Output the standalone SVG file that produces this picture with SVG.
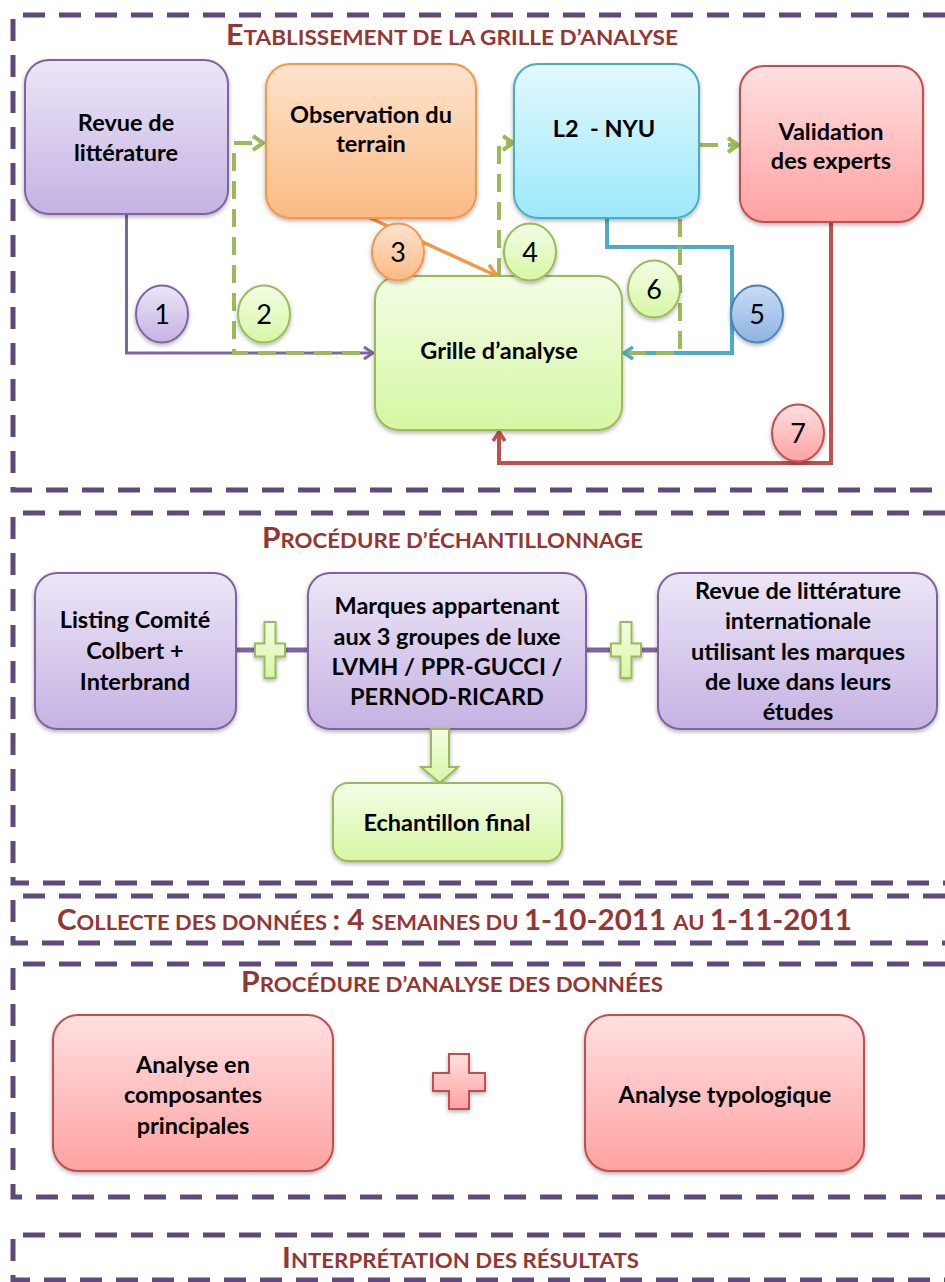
<svg xmlns="http://www.w3.org/2000/svg" width="945" height="1282" viewBox="0 0 945 1282">
<style>
.frame{fill:none;stroke:#5f4a7b;stroke-width:5;stroke-dasharray:22 14}
.title{font-family:Lato,"Liberation Sans",sans-serif;font-weight:bold;fill:#943634}
.big{font-size:29px}
.sm{font-size:21.5px}
.lbl{font-family:Lato,"Liberation Sans",sans-serif;font-weight:bold;font-size:23.5px;fill:#000;text-anchor:middle}
.num{font-family:Lato,"Liberation Sans",sans-serif;font-size:27px;fill:#000;text-anchor:middle}
.box{filter:url(#sh)}
.pu{fill:url(#gPu);stroke:#8064a2;stroke-width:2}
.or{fill:url(#gOr);stroke:#f79646;stroke-width:2}
.cy{fill:url(#gCy);stroke:#4bacc6;stroke-width:2}
.re{fill:url(#gRe);stroke:#c0504d;stroke-width:2}
.gr{fill:url(#gGr);stroke:#9bbb59;stroke-width:2}
.bl{fill:url(#gBl);stroke:#4f81bd;stroke-width:2}
.c-pu{fill:none;stroke:#8064a2;stroke-width:3}
.c-or{fill:none;stroke:#f79646;stroke-width:3.5}
.c-cy{fill:none;stroke:#4bacc6;stroke-width:4}
.c-re{fill:none;stroke:#c0504d;stroke-width:4}
.c-gr{fill:none;stroke:#9bbb59;stroke-width:4;stroke-dasharray:18 10}
.c-link{fill:none;stroke:#8064a2;stroke-width:5}
</style>
<defs>
<linearGradient id="gPu" x1="0" y1="0" x2="0" y2="1"><stop offset="0" stop-color="#ece6f6"/><stop offset="1" stop-color="#c5b2e3"/></linearGradient>
<linearGradient id="gOr" x1="0" y1="0" x2="0" y2="1"><stop offset="0" stop-color="#fee3cd"/><stop offset="1" stop-color="#fbbb84"/></linearGradient>
<linearGradient id="gCy" x1="0" y1="0" x2="0" y2="1"><stop offset="0" stop-color="#e2f9fe"/><stop offset="1" stop-color="#9de8fb"/></linearGradient>
<linearGradient id="gRe" x1="0" y1="0" x2="0" y2="1"><stop offset="0" stop-color="#ffe0e0"/><stop offset="1" stop-color="#ffa2a2"/></linearGradient>
<linearGradient id="gGr" x1="0" y1="0" x2="0" y2="1"><stop offset="0" stop-color="#f4fde6"/><stop offset="1" stop-color="#d6f7a3"/></linearGradient>
<linearGradient id="gBl" x1="0" y1="0" x2="0" y2="1"><stop offset="0" stop-color="#c9dcf3"/><stop offset="1" stop-color="#8db3e2"/></linearGradient>
<filter id="sh" x="-10%" y="-10%" width="120%" height="125%"><feDropShadow dx="0" dy="2" stdDeviation="2" flood-color="#000" flood-opacity="0.3"/></filter>
<marker id="aPu" markerUnits="userSpaceOnUse" markerWidth="16" markerHeight="16" refX="12" refY="8" orient="auto"><path d="M3,2 L12,8 L3,14" fill="none" stroke="#8064a2" stroke-width="3"/></marker>
<marker id="aOr" markerUnits="userSpaceOnUse" markerWidth="18" markerHeight="18" refX="14" refY="9" orient="auto"><path d="M2,2 L14,9 L2,16" fill="none" stroke="#f79646" stroke-width="3.5"/></marker>
<marker id="aCy" markerUnits="userSpaceOnUse" markerWidth="16" markerHeight="16" refX="12" refY="8" orient="auto"><path d="M3,2 L12,8 L3,14" fill="none" stroke="#4bacc6" stroke-width="3.5"/></marker>
<marker id="aRe" markerUnits="userSpaceOnUse" markerWidth="16" markerHeight="16" refX="12" refY="8" orient="auto"><path d="M3,2 L12,8 L3,14" fill="none" stroke="#c0504d" stroke-width="3.5"/></marker>
<marker id="aGr" markerUnits="userSpaceOnUse" markerWidth="18" markerHeight="18" refX="13" refY="9" orient="auto"><path d="M3,2 L13,9 L3,16" fill="none" stroke="#9bbb59" stroke-width="4"/></marker>
</defs>

<g id="frames">
<path class="frame" d="M945,15 H13 V490 H945"/>
<path class="frame" d="M945,513 H13 V883 H945"/>
<path class="frame" d="M945,896 H13 V943 H945"/>
<path class="frame" d="M945,964 H13 V1197 H945"/>
<path class="frame" d="M945,1235 H13 V1280 H945"/>
</g>

<g id="titles">
<text class="title" x="226" y="45" textLength="452" lengthAdjust="spacingAndGlyphs"><tspan class="big">E</tspan><tspan class="sm">TABLISSEMENT DE LA GRILLE D’ANALYSE</tspan></text>
<text class="title" x="262" y="548" textLength="381" lengthAdjust="spacingAndGlyphs"><tspan class="big">P</tspan><tspan class="sm">ROCÉDURE D’ÉCHANTILLONNAGE</tspan></text>
<text class="title" x="57" y="930" textLength="795" lengthAdjust="spacingAndGlyphs"><tspan class="big">C</tspan><tspan class="sm">OLLECTE DES DONNÉES </tspan><tspan class="big">: 4 </tspan><tspan class="sm">SEMAINES DU </tspan><tspan class="big">1-10-2011 </tspan><tspan class="sm">AU </tspan><tspan class="big">1-11-2011</tspan></text>
<text class="title" x="241" y="992" textLength="422" lengthAdjust="spacingAndGlyphs"><tspan class="big">P</tspan><tspan class="sm">ROCÉDURE D’ANALYSE DES DONNÉES</tspan></text>
<text class="title" x="282" y="1268" textLength="357" lengthAdjust="spacingAndGlyphs"><tspan class="big">I</tspan><tspan class="sm">NTERPRÉTATION DES RÉSULTATS</tspan></text>
</g>

<g id="connectors">
<path class="c-pu" d="M126.5,214 V353 H373" marker-end="url(#aPu)"/>
<path class="c-gr" d="M360,353 H234 V143 H263" marker-end="url(#aGr)"/>
<path class="c-or" d="M370,218 L497,276" marker-end="url(#aOr)"/>
<path class="c-gr" d="M499,276 V143 H513" marker-end="url(#aGr)"/>
<path class="c-cy" d="M607,218 V247 H732 V353 H624" marker-end="url(#aCy)"/>
<path class="c-gr" d="M628,353 H680 V145 H738" marker-end="url(#aGr)"/>
<path class="c-re" d="M831,222 V463 H499 V432" marker-end="url(#aRe)"/>
<path class="c-link" d="M236,650 H308"/>
<path class="c-link" d="M586,650 H658"/>
</g>

<g id="n-revue"><rect class="box pu" x="25" y="60" width="203" height="154" rx="24"/><text class="lbl" x="126" y="131">Revue de</text><text class="lbl" x="126" y="161">littérature</text></g>
<g id="n-observation"><rect class="box or" x="266" y="64" width="210" height="154" rx="24"/><text class="lbl" x="371" y="123">Observation du</text><text class="lbl" x="371" y="152">terrain</text></g>
<g id="n-l2"><rect class="box cy" x="514" y="64" width="185" height="154" rx="24"/><text class="lbl" x="604" y="137" style="white-space:pre">L2  - NYU</text></g>
<g id="n-validation"><rect class="box re" x="740" y="66" width="183" height="156" rx="24"/><text class="lbl" x="831" y="140">Validation</text><text class="lbl" x="831" y="169">des experts</text></g>
<g id="n-grille"><rect class="box gr" x="375" y="276" width="247" height="154" rx="24"/><text class="lbl" x="499" y="359">Grille d’analyse</text></g>

<g id="n-c1"><ellipse class="box pu" cx="162" cy="314" rx="26" ry="28.5"/><text class="num" x="162" y="324">1</text></g>
<g id="n-c2"><ellipse class="box gr" cx="264" cy="314" rx="26" ry="28.5"/><text class="num" x="264" y="324">2</text></g>
<g id="n-c3"><ellipse class="box or" cx="398" cy="252" rx="26" ry="28.5"/><text class="num" x="398" y="262">3</text></g>
<g id="n-c4"><ellipse class="box gr" cx="530" cy="252" rx="26" ry="28.5"/><text class="num" x="530" y="262">4</text></g>
<g id="n-c5"><ellipse class="box bl" cx="757" cy="314" rx="26" ry="28.5"/><text class="num" x="757" y="324">5</text></g>
<g id="n-c6"><ellipse class="box gr" cx="654" cy="289" rx="26" ry="28.5"/><text class="num" x="654" y="299">6</text></g>
<g id="n-c7"><ellipse class="box re" cx="798" cy="433" rx="26" ry="28.5"/><text class="num" x="798" y="443">7</text></g>

<g id="n-listing"><rect class="box pu" x="35" y="573" width="201" height="156" rx="22"/><text class="lbl" x="135" y="628">Listing Comité</text><text class="lbl" x="135" y="659">Colbert +</text><text class="lbl" x="135" y="690">Interbrand</text></g>
<g id="n-marques"><rect class="box pu" x="308" y="573" width="278" height="156" rx="22"/><text class="lbl" x="447" y="614">Marques appartenant</text><text class="lbl" x="447" y="645">aux 3 groupes de luxe</text><text class="lbl" x="447" y="675">LVMH / PPR-GUCCI /</text><text class="lbl" x="447" y="705">PERNOD-RICARD</text></g>
<g id="n-revueintl"><rect class="box pu" x="658" y="573" width="279" height="156" rx="22"/><text class="lbl" x="798" y="599">Revue de littérature</text><text class="lbl" x="798" y="629">internationale</text><text class="lbl" x="798" y="660">utilisant les marques</text><text class="lbl" x="798" y="690">de luxe dans leurs</text><text class="lbl" x="798" y="720">études</text></g>
<g id="n-plus1"><path class="box gr" d="M264.5,622 h11 v21.5 h9.5 v13 h-9.5 v21.5 h-11 v-21.5 h-9.5 v-13 h9.5 z"/></g>
<g id="n-plus2"><path class="box gr" d="M620.5,622 h11 v21.5 h9.5 v13 h-9.5 v21.5 h-11 v-21.5 h-9.5 v-13 h9.5 z"/></g>
<g id="n-downarrow"><path class="box gr" d="M431,729 H449 V767 H458 L440,783 L421,767 H431 Z"/></g>
<g id="n-echantillon"><rect class="box gr" x="333" y="783" width="229" height="78" rx="15"/><text class="lbl" x="447" y="831">Echantillon final</text></g>

<g id="n-acp"><rect class="box re" x="53" y="1015" width="280" height="156" rx="25"/><text class="lbl" x="193" y="1073">Analyse en</text><text class="lbl" x="193" y="1103">composantes</text><text class="lbl" x="193" y="1134">principales</text></g>
<g id="n-plus3"><path class="box re" d="M449,1054 h20 v19 h16 v18 h-16 v18 h-20 v-18 h-16 v-18 h16 z"/></g>
<g id="n-typo"><rect class="box re" x="585" y="1015" width="279" height="156" rx="25"/><text class="lbl" x="725" y="1103">Analyse typologique</text></g>
</svg>
